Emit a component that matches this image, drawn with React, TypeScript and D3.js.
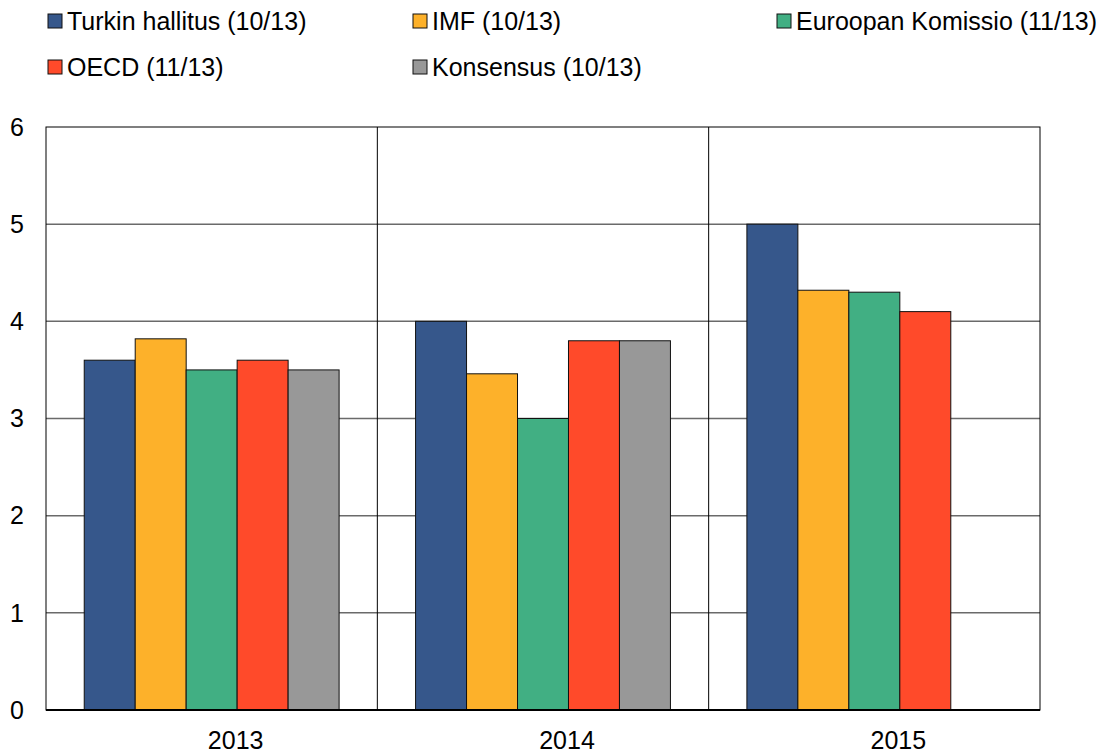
import React from "react";
import * as d3 from "d3";

const years = ["2013", "2014", "2015"];
const seriesNames = [
  "Turkin hallitus (10/13)",
  "IMF (10/13)",
  "Euroopan Komissio (11/13)",
  "OECD (11/13)",
  "Konsensus (10/13)",
];
const seriesColors = ["#36578B", "#FDB12A", "#41AF83", "#FF4A2A", "#989898"];
const turkinHallitus = [3.6, 4.0, 5.0];
const imf = [3.82, 3.46, 4.32];
const euroopanKomissio = [3.5, 3.0, 4.3];
const oecd = [3.6, 3.8, 4.1];
const konsensus: (number | null)[] = [3.5, 3.8, null];
const yTicks = [0, 1, 2, 3, 4, 5, 6];

const seriesValues: (number | null)[][] = [turkinHallitus, imf, euroopanKomissio, oecd, konsensus];

export default function App() {
  const W = 1116, H = 754;
  const left = 46, right = 1040, top = 127, bottom = 710;
  const x0 = d3.scaleBand<string>().domain(years).range([left, right]).paddingInner(0).paddingOuter(0);
  const x1 = d3.scaleBand<string>().domain(seriesNames).range([0, x0.bandwidth()]).paddingInner(0).paddingOuter(0.75);
  const y = d3.scaleLinear().domain([0, 6]).range([bottom, top]);
  const fs = 25;

  const legendPos = [
    { x: 48, y: 21 },
    { x: 413, y: 21 },
    { x: 777, y: 21 },
    { x: 48, y: 67 },
    { x: 413, y: 67 },
  ];

  return (
    <svg width={W} height={H} style={{ position: "absolute", left: 0, top: 0 }} fontFamily="'Liberation Sans', Arial, sans-serif">
      <rect x={0} y={0} width={W} height={H} fill="#fff" />
      {yTicks.filter(t => t > 0 && t < 6).map(t => (
        <line key={t} x1={left} x2={right} y1={y(t)} y2={y(t)} stroke="#6a6a6a" strokeWidth={1.5} />
      ))}
      {years.slice(1).map(yr => (
        <line key={yr} x1={x0(yr)!} x2={x0(yr)!} y1={top} y2={bottom} stroke="#000" strokeWidth={1} />
      ))}
      {years.map((yr, i) => (
        <g key={yr} transform={`translate(${x0(yr)},0)`}>
          {seriesNames.map((s, j) => {
            const v = seriesValues[j][i];
            if (v == null) return null;
            return (
              <rect key={s} x={x1(s)!} y={y(v)} width={x1.bandwidth()} height={y(0) - y(v)}
                fill={seriesColors[j]} stroke="#111" strokeWidth={1} />
            );
          })}
        </g>
      ))}
      <rect x={left} y={top} width={right - left} height={bottom - top} fill="none" stroke="#000" strokeWidth={1} />
      <line x1={left} x2={right} y1={bottom} y2={bottom} stroke="#000" strokeWidth={2} />
      {yTicks.map(t => (
        <text key={t} x={10} y={y(t)} dy="0.35em" fontSize={fs} fill="#000">{t}</text>
      ))}
      {years.map(yr => (
        <text key={yr} x={x0(yr)! + x0.bandwidth() / 2 + 24} y={740} dy="0.35em" textAnchor="middle" fontSize={fs} fill="#000">{yr}</text>
      ))}
      {seriesNames.map((s, j) => (
        <g key={s} transform={`translate(${legendPos[j].x},${legendPos[j].y})`}>
          <rect x={0} y={-7} width={14} height={14} fill={seriesColors[j]} stroke="#111" strokeWidth={1} />
          <text x={19} y={0} dy="0.35em" fontSize={fs} fill="#000">{s}</text>
        </g>
      ))}
    </svg>
  );
}
